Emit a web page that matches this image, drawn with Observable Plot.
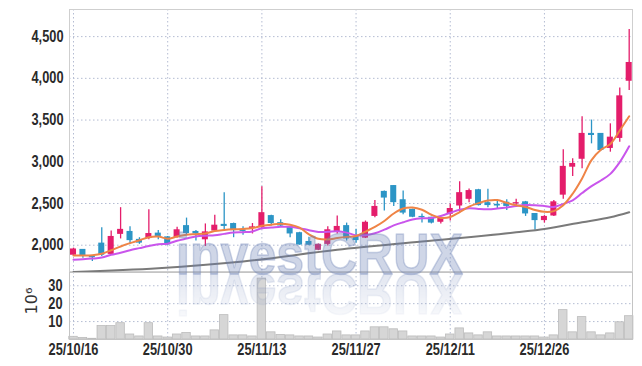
<!DOCTYPE html>
<html><head><meta charset="utf-8">
<script src="https://cdn.jsdelivr.net/npm/d3@7"></script>
<script src="https://cdn.jsdelivr.net/npm/@observablehq/plot@0.6"></script>
<style>
body{margin:0;background:#fff;}
#wrap{position:relative;width:642px;height:366px;overflow:hidden;background:#fff;}
#wrap svg{display:block;}
#wm{position:absolute;left:0;top:0;pointer-events:none;}
</style></head><body><div id="wrap"></div>
<script>
const dates = ["25/10/16","25/10/17","25/10/20","25/10/21","25/10/22","25/10/23","25/10/24","25/10/27","25/10/28","25/10/29",
"25/10/30","25/10/31","25/11/03","25/11/04","25/11/05","25/11/06","25/11/07","25/11/10","25/11/11","25/11/12",
"25/11/13","25/11/14","25/11/17","25/11/18","25/11/19","25/11/20","25/11/21","25/11/24","25/11/25","25/11/26",
"25/11/27","25/11/28","25/12/01","25/12/02","25/12/03","25/12/04","25/12/05","25/12/08","25/12/09","25/12/10",
"25/12/11","25/12/12","25/12/15","25/12/16","25/12/17","25/12/18","25/12/19","25/12/22","25/12/23","25/12/24",
"25/12/26","25/12/29","25/12/30","26/01/02","26/01/05","26/01/06","26/01/07","26/01/08","26/01/09","26/01/12"];

const open = [1880,1950,1865,2025,1890,2130,2165,2070,2080,2145,
 2100,2090,2235,2165,2065,2170,2250,2260,2185,2200,
 2210,2355,2270,2220,2150,2045,1940,2010,2155,2235,
 2105,2085,2345,2645,2715,2545,2430,2345,2335,2275,
 2370,2470,2550,2665,2510,2490,2515,2495,2520,2380,
 2295,2350,2600,2935,3030,3340,3340,3160,3280,3965];
const high = [1965,1950,1875,2210,2170,2450,2220,2090,2425,2175,
 2105,2215,2325,2175,2255,2360,2630,2265,2220,2260,
 2700,2360,2305,2225,2155,2095,2015,2220,2350,2265,
 2190,2290,2535,2650,2715,2650,2432,2375,2335,2325,
 2495,2760,2675,2670,2670,2525,2545,2550,2525,2380,
 2355,2535,3145,3035,3540,3500,3340,3455,3885,4585];
const low = [1865,1845,1805,1865,1885,2075,2015,2010,2065,2065,
 2000,2085,2115,2050,1985,2160,2175,2090,2120,2135,
 2190,2230,2220,2090,2000,1995,1935,1990,2135,2050,
 2025,2080,2330,2410,2465,2365,2330,2265,2255,2255,
 2290,2385,2510,2470,2450,2430,2415,2470,2345,2180,
 2265,2345,2550,2825,2915,3215,3130,3115,3235,3855];
const close = [1955,1875,1850,1880,2105,2190,2055,2025,2140,2105,
 2005,2185,2140,2135,2160,2240,2225,2175,2165,2220,
 2390,2260,2230,2135,2002,2000,2010,2185,2225,2075,
 2055,2275,2465,2565,2510,2385,2335,2330,2265,2320,
 2440,2630,2655,2475,2475,2470,2465,2510,2375,2295,
 2345,2520,2945,2980,3340,3315,3135,3295,3790,4190];

// volume in millions (10^6)
const volume = [1.5,0.9,0.4,7.5,7.5,9.1,2.8,1.7,9.1,1.7,
 1.1,2.8,3.6,1.7,1.7,5.1,13.6,2.3,2.3,1.7,
 34,4.0,2.5,2.3,1.7,1.7,1.1,2.8,4.5,2.3,
 2.3,4.5,6.8,6.8,5.7,4.5,1.7,1.7,1.7,1.1,
 2.8,6.2,3.4,2.3,4.0,1.7,1.7,1.7,1.7,1.7,
 1.1,2.3,16.4,4.0,12.5,4.0,2.3,3.4,9.6,13.0];

// moving averages
const ma5 = [1877,1877,1880,1897,1940,1985,2025,2060,2095,2103,
 2078,2104,2126,2132,2140,2170,2182,2190,2195,2205,
 2232,2245,2258,2245,2210,2130,2077,2068,2086,2100,
 2110,2163,2219,2290,2380,2440,2452,2425,2365,2327,
 2338,2397,2462,2504,2535,2541,2508,2479,2459,2423,
 2400,2409,2480,2617,2800,3020,3143,3213,3375,3545];
const ma10 = [1827,1832,1840,1852,1885,1910,1940,1965,1990,2012,
 2018,2054,2080,2105,2114,2119,2136,2151,2156,2165,
 2204,2211,2220,2220,2204,2180,2159,2160,2166,2151,
 2118,2119,2143,2186,2237,2275,2308,2322,2326,2351,
 2389,2425,2444,2435,2431,2440,2453,2471,2482,2479,
 2470,2459,2495,2538,2625,2709,2776,2855,2996,3186];
const maLongDates = ["25/10/16","25/10/29","25/11/11","25/11/25","25/12/08","25/12/22","25/12/26","26/01/05","26/01/08","26/01/12"];
const maLongVals = [1680,1725,1805,1945,2045,2155,2195,2275,2335,2395];

const yTicks = [2000,2500,3000,3500,4000,4500];
const volTicks = [10,20,30];
const xTickLabels = ["25/10/16","25/10/30","25/11/13","25/11/27","25/12/11","25/12/26"];

const UP = "#e41d6b", DOWN = "#2c95c6";
const GRID = "#b4bcd2";
const candles = dates.map((d,i)=>({date:d, open:open[i], high:high[i], low:low[i], close:close[i]}));
const volRows = dates.map((d,i)=>({date:d, vol:volume[i]}));
const ma5Rows = dates.map((d,i)=>({date:d, v:ma5[i]}));
const ma10Rows = dates.map((d,i)=>({date:d, v:ma10[i]}));
const maLongRows = maLongDates.map((d,i)=>({date:d, v:maLongVals[i]}));

const xRange = [68.3, 633.4];
const font = "'Liberation Sans', Arial, sans-serif";
const baseStyle = {background:"transparent", fontFamily:font, fontSize:"16px", fontWeight:"bold", color:"#2a2a2a", overflow:"visible"};

const main = Plot.plot({
  width: 642, height: 272,
  marginLeft: 69, marginRight: 10, marginTop: 9, marginBottom: 1,
  style: baseStyle,
  x: {type:"band", domain: dates, range: xRange, paddingInner: 0.36, paddingOuter: 0.18, round:false, axis:null},
  y: {domain:[1685, 4825], ticks: yTicks, tickFormat: d3.format(","), tickSize:0, tickPadding:6, label:null},
  marks: [
    Plot.ruleY(yTicks, {stroke: GRID, strokeDasharray:"1.5,2.5"}),
    Plot.ruleX(xTickLabels, {stroke: GRID, strokeDasharray:"1.5,2.5"}),
    Plot.frame({stroke:"#cfcfcf"}),
    Plot.ruleX(candles, {filter: d=>d.close>=d.open, x:"date", y1:"low", y2:"high", stroke: UP, strokeWidth:1.3}),
    Plot.ruleX(candles, {filter: d=>d.close<d.open, x:"date", y1:"low", y2:"high", stroke: DOWN, strokeWidth:1.3}),
    Plot.barY(candles, {filter: d=>d.close>=d.open, x:"date", y1:"open", y2:"close", fill: UP}),
    Plot.barY(candles, {filter: d=>d.close<d.open, x:"date", y1:"open", y2:"close", fill: DOWN}),
    Plot.line(maLongRows, {x:"date", y:"v", stroke:"#7a7a7a", strokeWidth:2, curve:"monotone-x"}),
    Plot.line(ma10Rows, {x:"date", y:"v", stroke:"#c955ec", strokeWidth:2, curve:"catmull-rom"}),
    Plot.line(ma5Rows, {x:"date", y:"v", stroke:"#ef8446", strokeWidth:2, curve:"catmull-rom"})
  ]
});

const vol = Plot.plot({
  width: 642, height: 94,
  marginLeft: 69, marginRight: 10, marginTop: 0, marginBottom: 27,
  style: baseStyle,
  x: {type:"band", domain: dates, range: xRange, paddingInner: 0.1, paddingOuter: 0.05, round:false,
      ticks: xTickLabels, tickSize:0, tickPadding:4, label:null},
  y: {domain:[0, 37.4], ticks: volTicks, tickSize:0, tickPadding:7, label:null},
  marks: [
    Plot.ruleY(volTicks, {stroke: GRID, strokeDasharray:"1.5,2.5"}),
    Plot.ruleX(xTickLabels, {stroke: GRID, strokeDasharray:"1.5,2.5"}),
    Plot.barY(volRows, {x:"date", y:"vol", fill:"#d6d6d6", stroke:"#bcbcbc", strokeWidth:0.8}),
    Plot.frame({stroke:"#c4c4c4"}),
    Plot.text(["10⁶"], {frameAnchor:"left", textAnchor:"middle", dx:-38, dy:-5, rotate:-90, text: d=>d, fontFamily:"'DejaVu Sans', sans-serif", fontWeight:"normal", fontSize:16, fill:"#333"})
  ]
});

const wrap = document.getElementById("wrap");
wrap.appendChild(main);
wrap.appendChild(vol);

// condense axis tick labels (narrow DIN-like look)
for (const svg of [main, vol]) {
  svg.querySelectorAll("text").forEach(t => {
    if (t.closest('[aria-label="text"]')) return;
    const L = t.getComputedTextLength();
    if (L > 0) { t.setAttribute("textLength", (L*0.8).toFixed(1)); t.setAttribute("lengthAdjust","spacingAndGlyphs"); }
  });
}

// watermark overlay (reflection drawn as a mirrored <use> of the same text)
const ns = "http://www.w3.org/2000/svg";
const wm = document.createElementNS(ns, "svg");
wm.setAttribute("id","wm"); wm.setAttribute("width","642"); wm.setAttribute("height","366");
wm.innerHTML = `
<defs>
 <linearGradient id="fadeG" gradientUnits="userSpaceOnUse" x1="0" y1="274" x2="0" y2="320">
  <stop offset="0" stop-color="#fff" stop-opacity="0.6"/>
  <stop offset="1" stop-color="#fff" stop-opacity="0.12"/>
 </linearGradient>
 <mask id="fadeM" maskUnits="userSpaceOnUse" x="0" y="0" width="642" height="366">
  <rect x="0" y="272" width="642" height="60" fill="url(#fadeG)"/>
 </mask>
</defs>
<text id="wmt" x="176" y="274" font-family="'Liberation Sans', Arial, sans-serif" font-weight="bold" font-size="58" textLength="287" lengthAdjust="spacingAndGlyphs" fill="#6b7fb3" fill-opacity="0.32" stroke="#6b7fb3" stroke-opacity="0.32" stroke-width="1.6" stroke-linejoin="round">investCRUX</text>
<g mask="url(#fadeM)"><use href="#wmt" transform="translate(0,548) scale(1,-1)"/></g>`;
wrap.appendChild(wm);
</script>
</body></html>
